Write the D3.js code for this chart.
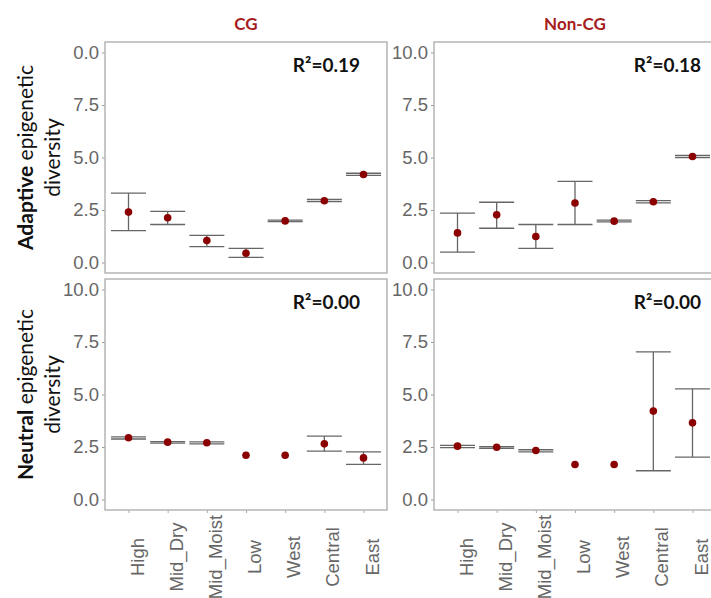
<!DOCTYPE html>
<html>
<head>
<meta charset="utf-8">
<script src="https://cdn.jsdelivr.net/npm/d3@7"></script>
<style>
  body { margin: 0; background: #fff; }
  svg { display: block; }
</style>
</head>
<body>
<div id="chart"></div>
<script>
// categories along the x axis
const regions = ["High", "Mid_Dry", "Mid_Moist", "Low", "West", "Central", "East"];

// column / row headings
const contexts = ["CG", "Non-CG"];
const rowBold = ["Adaptive", "Neutral"];

// mean and error bar ends per panel (null = no error bar drawn)
const cgAdaptMean = [2.40, 2.13, 1.05, 0.44, 1.98, 2.94, 4.19];
const cgAdaptLow  = [1.52, 1.81, 0.76, 0.24, 1.95, 2.90, 4.15];
const cgAdaptHigh = [3.30, 2.43, 1.29, 0.67, 2.02, 3.00, 4.25];

const ncgAdaptMean = [1.41, 2.27, 1.24, 2.83, 1.97, 2.89, 5.05];
const ncgAdaptLow  = [0.49, 1.63, 0.67, 1.81, 1.93, 2.84, 5.00];
const ncgAdaptHigh = [2.35, 2.87, 1.81, 3.86, 2.02, 2.95, 5.10];

const cgNeutMean = [2.94, 2.73, 2.70, 2.11, 2.11, 2.65, 1.98];
const cgNeutLow  = [2.88, 2.68, 2.65, null, null, 2.30, 1.67];
const cgNeutHigh = [2.98, 2.76, 2.74, null, null, 3.02, 2.27];

const ncgNeutMean = [2.54, 2.49, 2.33, 1.67, 1.67, 4.21, 3.65];
const ncgNeutLow  = [2.47, 2.44, 2.27, null, null, 1.37, 2.02];
const ncgNeutHigh = [2.58, 2.52, 2.37, null, null, 7.03, 5.27];

const r2Labels = ["R²=0.19", "R²=0.18", "R²=0.00", "R²=0.00"];

// y axis ticks (the top-left panel's top label lost its leading "1" in the source)
const yTicks = [0, 2.5, 5, 7.5, 10];
const yTickLabelsTopLeft = ["0.0", "2.5", "5.0", "7.5", "0.0"];
const yTickLabels = ["0.0", "2.5", "5.0", "7.5", "10.0"];

const panels = [
  { row: 0, col: 0, mean: cgAdaptMean, lo: cgAdaptLow, hi: cgAdaptHigh, r2: r2Labels[0], labels: yTickLabelsTopLeft },
  { row: 0, col: 1, mean: ncgAdaptMean, lo: ncgAdaptLow, hi: ncgAdaptHigh, r2: r2Labels[1], labels: yTickLabels },
  { row: 1, col: 0, mean: cgNeutMean, lo: cgNeutLow, hi: cgNeutHigh, r2: r2Labels[2], labels: yTickLabels },
  { row: 1, col: 1, mean: ncgNeutMean, lo: ncgNeutLow, hi: ncgNeutHigh, r2: r2Labels[3], labels: yTickLabels }
];

const width = 711, height = 598;
const panelW = 282, panelH = 231;
const colX = [105, 434];
const rowY = [42, 279];
const r2X = [255, 267];

const svg = d3.select("#chart").append("svg")
  .attr("width", width)
  .attr("height", height);

const x = d3.scalePoint().domain(regions).range([0, panelW]).padding(0.6);
const y = d3.scaleLinear().domain([0, 10]).range([220.5, 10.5]);

const tickFont = "'Liberation Sans', Arial, sans-serif";
const labelFont = "Lato, 'Open Sans', sans-serif";

panels.forEach(p => {
  const g = svg.append("g")
    .attr("transform", `translate(${colX[p.col]},${rowY[p.row]})`);

  // y axis: ticks + labels
  const yAxis = d3.axisLeft(y)
    .tickValues(yTicks)
    .tickSize(3)
    .tickPadding(3)
    .tickFormat((d, i) => p.labels[i]);
  const ya = g.append("g").call(yAxis);
  ya.select(".domain").remove();
  ya.selectAll(".tick line").attr("stroke", "#999");
  ya.selectAll(".tick text")
    .attr("fill", "#666")
    .style("font-family", tickFont)
    .style("font-size", "18.5px");

  // x ticks only on the bottom row
  if (p.row === 1) {
    const xAxis = d3.axisBottom(x).tickSize(3).tickFormat("");
    const xa = g.append("g").attr("transform", `translate(0,${panelH})`).call(xAxis);
    xa.select(".domain").remove();
    xa.selectAll(".tick line").attr("stroke", "#aaa");

    g.append("g").selectAll("text")
      .data(regions)
      .join("text")
      .attr("transform", d => `translate(${x(d) + 15},278) rotate(-90)`)
      .attr("text-anchor", "middle")
      .attr("fill", "#666")
      .style("font-family", tickFont)
      .style("font-size", "18.5px")
      .text(d => d);
  }

  const rows = regions.map((r, i) => ({ r, m: p.mean[i], lo: p.lo[i], hi: p.hi[i] }));
  const withBars = rows.filter(d => d.lo != null);

  // error bars
  const eb = g.append("g").attr("stroke", "#666").attr("stroke-width", 1.3);
  eb.selectAll(".stem").data(withBars).join("line")
    .attr("x1", d => x(d.r)).attr("x2", d => x(d.r))
    .attr("y1", d => y(d.lo)).attr("y2", d => y(d.hi));
  eb.selectAll(".capLo").data(withBars).join("line")
    .attr("x1", d => x(d.r) - 17.5).attr("x2", d => x(d.r) + 17.5)
    .attr("y1", d => y(d.lo)).attr("y2", d => y(d.lo));
  eb.selectAll(".capHi").data(withBars).join("line")
    .attr("x1", d => x(d.r) - 17.5).attr("x2", d => x(d.r) + 17.5)
    .attr("y1", d => y(d.hi)).attr("y2", d => y(d.hi));

  // means
  g.append("g").selectAll("circle").data(rows).join("circle")
    .attr("cx", d => x(d.r))
    .attr("cy", d => y(d.m))
    .attr("r", 3.8)
    .attr("fill", "#8b0000");

  // panel border
  g.append("rect")
    .attr("width", panelW)
    .attr("height", panelH)
    .attr("fill", "none")
    .attr("stroke", "#b5b5b5")
    .attr("stroke-width", 1.5);

  // R² annotation
  g.append("text")
    .attr("x", r2X[p.col])
    .attr("y", 30)
    .attr("text-anchor", "end")
    .style("font-family", labelFont)
    .style("font-weight", "bold")
    .style("font-size", "19px")
    .attr("fill", "#111")
    .text(p.r2);
});

// column titles
svg.selectAll(".colTitle").data(contexts).join("text")
  .attr("x", (d, i) => colX[i] + panelW / 2)
  .attr("y", 30)
  .attr("text-anchor", "middle")
  .style("font-family", labelFont)
  .style("font-weight", "bold")
  .style("font-size", "17px")
  .attr("fill", "#a61c1c")
  .text(d => d);

// row titles
rowBold.forEach((b, i) => {
  const cy = rowY[i] + panelH / 2;
  const t = svg.append("text")
    .attr("transform", `translate(33,${cy}) rotate(-90)`)
    .attr("text-anchor", "middle")
    .style("font-family", labelFont)
    .style("font-size", "21px")
    .attr("fill", "#111");
  t.append("tspan").style("font-weight", "bold").text(b);
  t.append("tspan").text(" epigenetic");
  svg.append("text")
    .attr("transform", `translate(60,${cy}) rotate(-90)`)
    .attr("text-anchor", "middle")
    .style("font-family", labelFont)
    .style("font-size", "21px")
    .attr("fill", "#111")
    .text("diversity");
});
</script>
</body>
</html>
